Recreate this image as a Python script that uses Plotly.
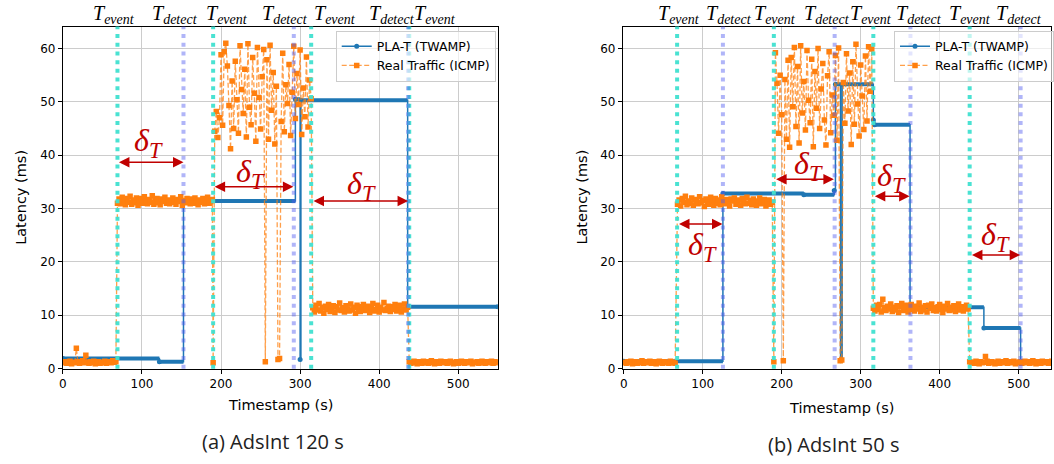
import numpy as np
import plotly.graph_objects as go

# ======================= DATA =======================
# (a) AdsInt 120 s ---------------------------------------------------
a_pla_t = [0, 122, 152.5, 294, 300, 301, 436, 550]        # PLA-T level change times (s)
a_pla_v = [1.9, 1.3, 31.4, 50.5, 1.7, 50.3, 11.6]          # PLA-T latency levels (ms)

icmp_dt = 2  # s between plotted ICMP samples
a_icmp_t0 = [1, 69, 190, 316, 438]                          # segment start times (s)
a_icmp_base = [1.1, 1.3, 1.0, 1.2, 1.4, 0.9, 1.2, 1.1, 3.8, 1.3, 1.0, 1.2, 1.5, 1.1, 2.5, 1.2, 1.0,
               1.3, 1.1, 1.4, 0.9, 1.2, 1.3, 1.0, 1.2, 1.1, 1.4, 1.0, 1.3, 1.2, 1.1, 1.5, 1.2, 1.3]
a_icmp_step1 = [31.0, 31.8, 30.9, 32.1, 31.5, 30.7, 31.9, 31.2, 32.3, 30.8, 31.6, 31.1, 32.0, 30.6, 31.4,
                31.9, 31.0, 32.2, 31.3, 30.9, 31.7, 31.2, 32.4, 30.8, 31.5, 31.9, 31.1, 30.7, 31.8, 31.3,
                32.1, 31.0, 31.6, 30.9, 31.4, 32.0, 31.2, 30.8, 31.7, 31.3, 32.2, 30.6, 31.5, 31.1, 31.9,
                31.3, 30.9, 31.8, 31.0, 32.0, 31.4, 30.7, 31.6, 31.2, 31.9, 30.9, 31.5, 32.1, 31.0, 31.3, 31.7]
a_icmp_congest = [1.1, 44.5, 48.2, 43.3, 47.0, 58.8, 45.6, 59.4, 61.0, 56.7, 49.3, 41.2, 53.9, 45.0, 57.6,
                  50.4, 44.1, 60.5, 52.3, 47.8, 56.1, 43.4, 60.9, 49.0, 45.7, 58.3, 51.6, 42.6, 60.2, 50.8,
                  44.9, 54.7, 59.8, 1.3, 57.9, 43.0, 60.6, 48.4, 55.5, 42.1, 52.9, 1.7, 1.9, 46.3, 59.1,
                  44.4, 53.2, 49.7, 57.0, 43.7, 51.8, 60.4, 46.9, 55.3, 49.5, 59.7, 43.9, 52.6, 47.2, 58.4,
                  45.3, 54.1, 50.6]
a_icmp_step2 = [11.4, 10.6, 11.9, 11.0, 12.2, 10.8, 11.5, 10.4, 11.7, 11.1, 12.0, 10.7, 11.3, 11.8, 10.5,
                11.6, 11.0, 12.3, 10.9, 11.4, 10.6, 11.8, 11.2, 10.8, 12.1, 11.0, 11.5, 10.4, 11.9, 11.3,
                10.7, 11.6, 12.0, 10.9, 11.2, 11.7, 10.5, 11.4, 12.2, 10.8, 11.1, 11.9, 10.6, 11.5, 11.0,
                12.4, 10.9, 11.3, 11.7, 10.7, 11.6, 11.1, 12.0, 10.8, 11.4, 11.9, 10.6, 11.2, 12.1, 11.0, 11.5]
a_icmp_recover = [1.3, 1.0, 1.2, 1.4, 1.1, 0.9, 1.3, 1.2, 1.0, 1.4, 1.1, 1.3, 1.0, 1.2, 1.5, 1.1, 0.9, 1.3,
                  1.2, 1.0, 1.4, 1.1, 1.2, 1.3, 1.0, 1.2, 1.4, 1.1, 0.9, 1.2, 1.3, 1.0, 1.1, 1.4, 1.2, 1.0,
                  1.3, 1.1, 1.2, 1.4, 0.9, 1.2, 1.1, 1.3, 1.0, 1.2, 1.4, 1.1, 1.0, 1.3, 1.2, 1.1, 1.4, 1.0,
                  1.2, 1.3, 1.1]

a_events = [69, 190, 314, 438]
a_detects = [152.5, 292, 436.5]
a_event_lbl_x = [65, 207.5, 344.3, 470.3]
a_detect_lbl_x = [141.9, 280.4, 416.5]
a_delta_from = [69, 190, 315]
a_delta_to = [152.5, 291.5, 436.5]
a_delta_y = [38.7, 34.1, 31.4]
a_delta_lbl_x = [108, 237, 378]
a_delta_lbl_y = [42.3, 36.5, 34.3]

# (b) AdsInt 50 s ----------------------------------------------------
b_pla_t = [0, 125.5, 228, 266.5, 268, 274.5, 276.5, 316, 317.5, 362.5, 456, 502.5, 541]
b_pla_v = [1.4, 32.8, 32.6, 33.4, 53.3, 1.5, 53.3, 46.6, 45.7, 11.5, 7.6, 1.3]

b_icmp_t0 = [1, 68, 190, 316, 438]
b_icmp_base = [1.2, 1.0, 1.3, 1.1, 1.4, 0.9, 1.2, 1.3, 1.0, 1.2, 1.1, 1.5, 1.0, 1.3, 1.2, 1.1, 1.4,
               1.0, 1.2, 1.3, 0.9, 1.1, 1.4, 1.2, 1.0, 1.3, 1.1, 1.2, 1.0, 1.4, 1.1, 1.2, 1.0]
b_icmp_step1 = [30.8, 31.6, 30.5, 31.9, 31.2, 32.3, 30.7, 31.4, 31.0, 32.0, 30.6, 31.7, 31.3, 30.9, 32.2,
                31.1, 31.5, 30.4, 31.8, 31.2, 30.8, 32.1, 31.4, 30.6, 31.9, 31.0, 31.6, 30.7, 32.2, 31.3,
                30.9, 31.7, 31.1, 30.5, 31.8, 31.4, 32.0, 30.8, 31.2, 31.6, 30.6, 31.9, 31.3, 30.9, 32.1,
                31.0, 31.5, 30.7, 31.8, 31.2, 30.6, 31.4, 32.0, 30.9, 31.3, 31.7, 30.5, 31.1, 31.6, 30.8, 31.2]
b_icmp_congest = [1.3, 59.2, 53.5, 44.1, 55.0, 47.6, 1.5, 54.2, 43.0, 57.8, 41.5, 58.3, 49.1, 60.2, 45.4,
                  56.6, 42.3, 60.5, 47.9, 53.8, 44.7, 59.6, 50.3, 46.1, 58.0, 41.6, 55.7, 48.8, 60.0, 45.0,
                  52.4, 57.2, 46.6, 41.9, 54.9, 59.4, 44.2, 51.3, 47.5, 58.7, 42.8, 60.1, 1.5, 1.6, 53.6,
                  46.0, 59.0, 48.3, 55.4, 42.0, 57.5, 45.8, 60.8, 49.6, 43.6, 56.9, 51.1, 44.8, 58.6, 46.4,
                  60.3, 52.0, 59.9]
b_icmp_step2 = [11.3, 10.8, 11.9, 11.1, 12.0, 10.6, 13.0, 11.4, 10.9, 11.7, 11.2, 12.1, 10.7, 11.5, 11.0,
                11.8, 10.5, 11.6, 12.2, 10.9, 11.3, 11.9, 10.6, 11.4, 12.0, 11.1, 10.8, 11.7, 11.2, 12.3,
                10.7, 11.5, 11.0, 11.8, 10.6, 11.9, 11.3, 12.1, 10.9, 11.4, 10.8, 11.6, 12.0, 11.1, 10.5,
                11.7, 11.2, 12.2, 10.9, 11.5, 11.0, 11.8, 10.7, 11.4, 12.1, 11.0, 11.6, 10.8, 11.3, 11.9, 11.2]
b_icmp_recover = [1.3, 1.1, 1.2, 1.0, 1.4, 1.2, 0.9, 1.3, 1.1, 1.2, 2.3, 1.4, 1.0, 1.2, 1.3, 1.1, 0.9, 1.2,
                  1.4, 1.0, 1.3, 1.1, 1.2, 1.5, 1.0, 1.2, 1.3, 1.1, 1.4, 0.9, 1.2, 1.1, 1.3, 1.0, 1.2, 1.4,
                  1.1, 1.3, 1.0, 1.2, 1.5, 1.1, 0.9, 1.3, 1.2, 1.0, 1.4, 1.1, 1.2, 1.3, 1.0, 1.2, 1.4, 1.1,
                  1.3, 1.0, 1.2, 1.1, 1.3]

b_events = [67.5, 190, 316, 438]
b_detects = [125.5, 267, 363, 502.5]
b_event_lbl_x = [69.4, 191.6, 312.6, 437.9]
b_detect_lbl_x = [133.7, 256.9, 373.5, 501.1]
b_delta_from = [68, 191, 316, 439]
b_delta_to = [125, 266, 362, 502]
b_delta_y = [27.1, 35.5, 32.3, 21.3]
b_delta_lbl_x = [100, 234, 339, 471]
b_delta_lbl_y = [22.9, 38.0, 35.8, 24.8]

x_ticks = [0, 100, 200, 300, 400, 500]
y_ticks = [0, 10, 20, 30, 40, 50, 60]

# ======================= STYLE =======================
W, H = 1054, 464
BLUE = "#1f77b4"
ORANGE = "#ff7f0e"
EVENT = "rgba(64,224,208,0.95)"
DETECT = "rgba(80,90,240,0.45)"
RED = "#c00000"
FONT = "DejaVu Sans"
SERIF = "Liberation Serif"


def icmp_series(t0s, segs):
    xs, ys = [], []
    for t0, seg in zip(t0s, segs):
        xs.extend((t0 + icmp_dt * np.arange(len(seg))).tolist())
        ys.extend(seg)
    return xs, ys


def pla_thick(t, v):
    xs, ys = [], []
    for i, lv in enumerate(v):
        xs += [t[i], t[i + 1], None]
        ys += [lv, lv, None]
    return xs, ys


fig = go.Figure()

panels = [
    dict(xa="x", ya="y", leg="legend", pla_t=a_pla_t, pla_v=a_pla_v, t0=a_icmp_t0,
         segs=[a_icmp_base, a_icmp_step1, a_icmp_congest, a_icmp_step2, a_icmp_recover],
         ev=a_events, de=a_detects, evl=a_event_lbl_x, del_=a_detect_lbl_x,
         dfrom=a_delta_from, dto=a_delta_to, dy=a_delta_y, dlx=a_delta_lbl_x, dly=a_delta_lbl_y),
    dict(xa="x2", ya="y2", leg="legend2", pla_t=b_pla_t, pla_v=b_pla_v, t0=b_icmp_t0,
         segs=[b_icmp_base, b_icmp_step1, b_icmp_congest, b_icmp_step2, b_icmp_recover],
         ev=b_events, de=b_detects, evl=b_event_lbl_x, del_=b_detect_lbl_x,
         dfrom=b_delta_from, dto=b_delta_to, dy=b_delta_y, dlx=b_delta_lbl_x, dly=b_delta_lbl_y),
]

shapes = []
annotations = []

for p in panels:
    tx, ty = pla_thick(p["pla_t"], p["pla_v"])
    fig.add_trace(go.Scatter(x=tx, y=ty, mode="lines", line=dict(color=BLUE, width=4),
                             xaxis=p["xa"], yaxis=p["ya"], showlegend=False, hoverinfo="skip"))
    fig.add_trace(go.Scatter(x=p["pla_t"], y=p["pla_v"] + [p["pla_v"][-1]], mode="lines+markers",
                             line=dict(color=BLUE, width=1.5, shape="hv"),
                             marker=dict(color=BLUE, size=5, symbol="circle"),
                             name="PLA-T (TWAMP)", legend=p["leg"], xaxis=p["xa"], yaxis=p["ya"]))
    ix, iy = icmp_series(p["t0"], p["segs"])
    fig.add_trace(go.Scatter(x=ix, y=iy, mode="lines+markers",
                             line=dict(color="rgba(255,127,14,0.75)", width=1.3, dash="5px,2.5px"),
                             marker=dict(color=ORANGE, size=5.5, symbol="square"),
                             name="Real Traffic (ICMP)", legend=p["leg"], xaxis=p["xa"], yaxis=p["ya"]))

    for t in p["ev"]:
        shapes.append(dict(type="line", xref=p["xa"], yref=p["ya"] + " domain", x0=t, x1=t, y0=0, y1=1,
                           line=dict(color=EVENT, width=4, dash="4px,4.7px"), layer="above"))
    for t in p["de"]:
        shapes.append(dict(type="line", xref=p["xa"], yref=p["ya"] + " domain", x0=t, x1=t, y0=0, y1=1,
                           line=dict(color=DETECT, width=4, dash="4px,4.7px"), layer="above"))

    for x in p["evl"]:
        annotations.append(dict(x=x, y=1 - 14.5 / H, xref=p["xa"], yref="paper", showarrow=False,
                                text="<i>T</i><sub><i>event</i></sub>", xanchor="center", yanchor="middle",
                                font=dict(family=SERIF, size=20, color="black")))
    for x in p["del_"]:
        annotations.append(dict(x=x, y=1 - 14.5 / H, xref=p["xa"], yref="paper", showarrow=False,
                                text="<i>T</i><sub><i>detect</i></sub>", xanchor="center", yanchor="middle",
                                font=dict(family=SERIF, size=20, color="black")))
    for f, t, yy in zip(p["dfrom"], p["dto"], p["dy"]):
        annotations.append(dict(x=t, y=yy, ax=f, ay=yy, xref=p["xa"], yref=p["ya"], axref=p["xa"],
                                ayref=p["ya"], text="", showarrow=True, arrowside="end+start",
                                arrowhead=2, startarrowhead=2, arrowsize=1.4, startarrowsize=1.4,
                                arrowwidth=1.5, arrowcolor=RED, standoff=0, startstandoff=0))
    for x, yy in zip(p["dlx"], p["dly"]):
        annotations.append(dict(x=x, y=yy, xref=p["xa"], yref=p["ya"], showarrow=False,
                                text="<i>δ</i><sub><i>T</i></sub>", xanchor="center", yanchor="middle",
                                font=dict(family=SERIF, size=32, color=RED)))

# axis titles and captions
for x, y, txt, ang in [(17.5, 200.5, "Latency (ms)", -90), (582, 200.5, "Latency (ms)", -90),
                       (278, 411, "Timestamp (s)", 0), (843, 414, "Timestamp (s)", 0)]:
    annotations.append(dict(x=x / W, y=1 - y / H, xref="paper", yref="paper", text=txt, textangle=ang,
                            showarrow=False, xanchor="center", yanchor="middle",
                            font=dict(family=FONT, size=14.5, color="black")))
for x, y, txt in [(271, 448, "(a) AdsInt 120 s"), (835, 451, "(b) AdsInt 50 s")]:
    annotations.append(dict(x=x / W, y=1 - y / H, xref="paper", yref="paper", text=txt, showarrow=False,
                            xanchor="center", yanchor="middle",
                            font=dict(family="Open Sans", size=20, color="#222222")))

axis_common = dict(showgrid=True, gridcolor="#cccccc", gridwidth=1, zeroline=False, showline=True,
                   mirror=True, linecolor="black", linewidth=1, ticks="outside", ticklen=4,
                   tickcolor="black", tickfont=dict(family=FONT, size=12, color="black"))
ydom = [1 - 374.3 / H, 1 - 27 / H]

legend_common = dict(bgcolor="rgba(255,255,255,0.65)", bordercolor="#cccccc", borderwidth=1,
                     font=dict(family=FONT, size=12.5, color="black"), yanchor="top", y=1 - 31 / H,
                     tracegroupgap=0)

fig.update_layout(
    width=W, height=H, autosize=False, margin=dict(l=0, r=0, t=0, b=0),
    paper_bgcolor="white", plot_bgcolor="white",
    xaxis=dict(domain=[59.3 / W, 497.1 / W], range=[0, 550], tickvals=x_ticks, anchor="y", **axis_common),
    yaxis=dict(domain=ydom, range=[0, 64.1], tickvals=y_ticks, anchor="x", **axis_common),
    xaxis2=dict(domain=[623 / W, 1.0], range=[-1.2, 541], tickvals=x_ticks, anchor="y2", **axis_common),
    yaxis2=dict(domain=ydom, range=[0, 64.1], tickvals=y_ticks, anchor="x2", **axis_common),
    legend=dict(x=495 / W, xanchor="right", **legend_common),
    legend2=dict(x=896 / W, xanchor="left", **legend_common),
    shapes=shapes, annotations=annotations,
)

fig.write_html("out.html")
